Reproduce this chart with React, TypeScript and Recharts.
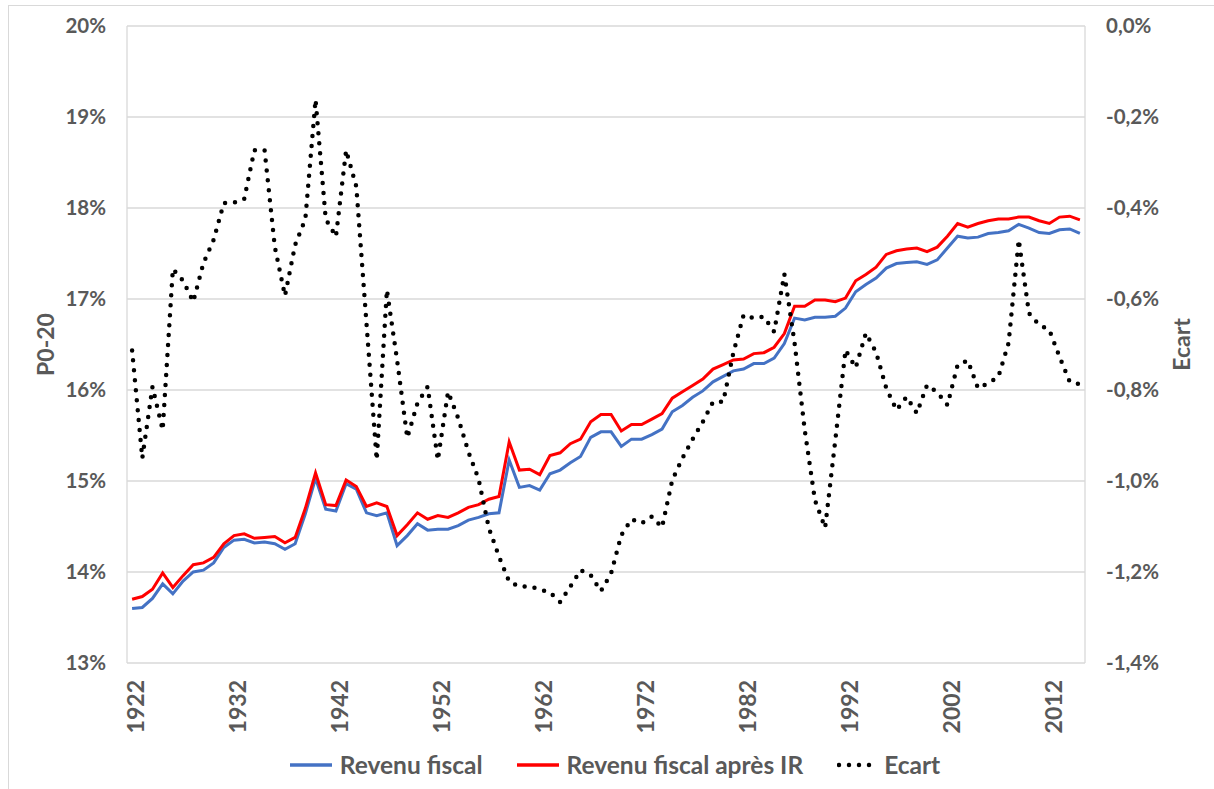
import React from 'react';
import { LineChart, Line, XAxis, YAxis, CartesianGrid } from 'recharts';

const years = [
  1922, 1923, 1924, 1925, 1926, 1927, 1928, 1929, 1930, 1931,
  1932, 1933, 1934, 1935, 1936, 1937, 1938, 1939, 1940, 1941,
  1942, 1943, 1944, 1945, 1946, 1947, 1948, 1949, 1950, 1951,
  1952, 1953, 1954, 1955, 1956, 1957, 1958, 1959, 1960, 1961,
  1962, 1963, 1964, 1965, 1966, 1967, 1968, 1969, 1970, 1971,
  1972, 1973, 1974, 1975, 1976, 1977, 1978, 1979, 1980, 1981,
  1982, 1983, 1984, 1985, 1986, 1987, 1988, 1989, 1990, 1991,
  1992, 1993, 1994, 1995, 1996, 1997, 1998, 1999, 2000, 2001,
  2002, 2003, 2004, 2005, 2006, 2007, 2008, 2009, 2010, 2011,
  2012, 2013, 2014, 2015,
];

// P0-20 share, revenu fiscal (%)
const revenuFiscal = [
  13.60, 13.61, 13.71, 13.87, 13.76, 13.90, 14.00, 14.02, 14.10, 14.27,
  14.35, 14.36, 14.32, 14.33, 14.31, 14.25, 14.31, 14.64, 15.03, 14.69,
  14.67, 14.97, 14.91, 14.65, 14.62, 14.65, 14.29, 14.40, 14.53, 14.46,
  14.47, 14.47, 14.51, 14.57, 14.60, 14.64, 14.65, 15.23, 14.93, 14.95,
  14.90, 15.08, 15.12, 15.20, 15.27, 15.48, 15.54, 15.54, 15.38, 15.46,
  15.46, 15.51, 15.57, 15.76, 15.83, 15.92, 15.99, 16.09, 16.15, 16.21,
  16.23, 16.29, 16.29, 16.35, 16.51, 16.79, 16.77, 16.80, 16.80, 16.81,
  16.90, 17.08, 17.16, 17.23, 17.34, 17.39, 17.40, 17.41, 17.38, 17.43,
  17.56, 17.69, 17.67, 17.68, 17.72, 17.73, 17.75, 17.82, 17.78, 17.73,
  17.72, 17.76, 17.77, 17.72,
];

// P0-20 share, revenu fiscal après IR (%)
const revenuApresIR = [
  13.70, 13.73, 13.81, 13.99, 13.83, 13.96, 14.08, 14.10, 14.16, 14.31,
  14.40, 14.42, 14.37, 14.38, 14.39, 14.32, 14.38, 14.70, 15.09, 14.74,
  14.73, 15.01, 14.94, 14.72, 14.76, 14.72, 14.40, 14.52, 14.65, 14.58,
  14.62, 14.60, 14.65, 14.71, 14.74, 14.80, 14.83, 15.43, 15.12, 15.13,
  15.07, 15.28, 15.31, 15.41, 15.46, 15.65, 15.73, 15.73, 15.55, 15.62,
  15.62, 15.68, 15.74, 15.91, 15.98, 16.05, 16.12, 16.23, 16.28, 16.33,
  16.34, 16.40, 16.41, 16.47, 16.62, 16.92, 16.92, 16.99, 16.99, 16.97,
  17.01, 17.20, 17.27, 17.35, 17.49, 17.53, 17.55, 17.56, 17.52, 17.57,
  17.69, 17.83, 17.79, 17.83, 17.86, 17.88, 17.88, 17.90, 17.90, 17.86,
  17.83, 17.90, 17.91, 17.87,
];

// Ecart (%), right axis
const ecart = [
  -0.713, -0.950, -0.793, -0.888, -0.534, -0.560, -0.606, -0.521, -0.470, -0.389,
  -0.388, -0.380, -0.273, -0.273, -0.485, -0.593, -0.481, -0.424, -0.162, -0.424,
  -0.463, -0.273, -0.353, -0.654, -0.954, -0.580, -0.734, -0.905, -0.829, -0.793,
  -0.954, -0.804, -0.862, -0.936, -0.996, -1.103, -1.166, -1.221, -1.232, -1.232,
  -1.238, -1.245, -1.266, -1.232, -1.196, -1.207, -1.242, -1.203, -1.119, -1.084,
  -1.093, -1.078, -1.102, -0.998, -0.950, -0.908, -0.870, -0.826, -0.826, -0.718,
  -0.635, -0.642, -0.639, -0.672, -0.545, -0.696, -0.888, -1.042, -1.103, -0.910,
  -0.712, -0.751, -0.675, -0.717, -0.796, -0.844, -0.815, -0.851, -0.789, -0.805,
  -0.833, -0.745, -0.735, -0.796, -0.785, -0.771, -0.697, -0.470, -0.631, -0.657,
  -0.668, -0.727, -0.782, -0.787,
];

const xTickYears = [1922, 1932, 1942, 1952, 1962, 1972, 1982, 1992, 2002, 2012];
const leftTicks = [13, 14, 15, 16, 17, 18, 19, 20];
const rightTicks = [-1.4, -1.2, -1.0, -0.8, -0.6, -0.4, -0.2, 0];

const seriesNames = {
  revenuFiscal: 'Revenu fiscal',
  revenuApresIR: 'Revenu fiscal après IR',
  ecart: 'Ecart',
};
const leftTitle = 'P0-20';
const rightTitle = 'Ecart';

const data = years.map((year, i) => ({
  year,
  revenuFiscal: revenuFiscal[i],
  revenuApresIR: revenuApresIR[i],
  ecart: ecart[i],
}));

const xDomain = [years[0] - 0.5, years[years.length - 1] + 0.5];
const gridTicks = xTickYears.map((y) => y - 0.5);

const FONT = 'Lato, "Open Sans", "DejaVu Sans", sans-serif';
const TEXT = '#595959';
const GRID = '#D9D9D9';
const BLUE = '#4472C4';
const RED = '#FF0000';

const tickStyle = { fill: TEXT, fontSize: 20.5, fontWeight: 700, fontFamily: FONT };

const XTick = (props: any) => {
  const { x, y, payload } = props;
  const tx = x + 4;
  const ty = y + 9;
  return (
    <text
      x={tx}
      y={ty}
      transform={`rotate(-90 ${tx} ${ty})`}
      textAnchor="end"
      dy="0.36em"
      fill={TEXT}
      fontSize={23}
      fontWeight={700}
      fontFamily={FONT}
    >
      {payload.value}
    </text>
  );
};

const makeTitle = (text: string, offset: number) => (props: any) => {
  const vb = props.viewBox || {};
  const cx = vb.x + offset;
  const cy = vb.y + vb.height / 2;
  return (
    <text
      x={cx}
      y={cy}
      transform={`rotate(-90 ${cx} ${cy})`}
      textAnchor="middle"
      dominantBaseline="central"
      fill={TEXT}
      fontSize={23}
      fontWeight={700}
      fontFamily={FONT}
    >
      {text}
    </text>
  );
};

const fmtRight = (v: number) => `${v.toFixed(1).replace('.', ',')}%`;

const LegendItem = ({ kind, label }: { kind: 'blue' | 'red' | 'dot'; label: string }) => (
  <div style={{ display: 'flex', alignItems: 'center' }}>
    <svg width={44} height={12} style={{ marginRight: kind === 'dot' ? 3 : 6 }}>
      {kind === 'dot' ? (
        <line x1={2} y1={6} x2={42} y2={6} stroke="#000" strokeWidth={4.5}
          strokeDasharray="0 10" strokeLinecap="round" />
      ) : (
        <line x1={0} y1={6} x2={42} y2={6} stroke={kind === 'blue' ? BLUE : RED} strokeWidth={3.5} />
      )}
    </svg>
    <span style={{ color: TEXT, fontSize: 24.5, fontWeight: 700, fontFamily: FONT, lineHeight: '28px' }}>{label}</span>
  </div>
);

export default function App() {
  return (
    <div style={{ position: 'absolute', left: 0, top: 0, width: 1214, height: 789, background: '#fff', overflow: 'hidden' }}>
      <div style={{ position: 'absolute', left: 8, top: 5, width: 1300, height: 900, borderTop: '1.5px solid #D9D9D9', borderLeft: '1.5px solid #D9D9D9' }} />
      <div style={{ position: 'absolute', left: 0, top: 0 }}>
        <LineChart width={1214} height={789} data={data} margin={{ top: 26, right: 0, bottom: 56, left: 0 }}>
          <CartesianGrid xAxisId="grid" yAxisId="left" stroke={GRID} strokeWidth={1.3} />
          <XAxis
            xAxisId="main"
            dataKey="year"
            type="number"
            domain={xDomain}
            ticks={xTickYears}
            interval={0}
            tick={<XTick />}
            tickLine={false}
            axisLine={false}
            height={70}
          />
          <XAxis
            xAxisId="grid"
            dataKey="year"
            type="number"
            domain={xDomain}
            ticks={gridTicks}
            tick={false}
            tickLine={false}
            axisLine={false}
            height={0}
          />
          <YAxis
            yAxisId="left"
            domain={[13, 20]}
            ticks={leftTicks}
            interval={0}
            tickFormatter={(v: number) => `${v}%`}
            width={127}
            axisLine={false}
            tickLine={false}
            tickMargin={15}
            tick={tickStyle}
            label={{ content: makeTitle(leftTitle, 45) }}
          />
          <YAxis
            yAxisId="right"
            orientation="right"
            domain={[-1.4, 0]}
            ticks={rightTicks}
            interval={0}
            tickFormatter={fmtRight}
            width={129}
            axisLine={false}
            tickLine={false}
            tickMargin={15}
            tick={{ ...tickStyle, textAnchor: 'start' }}
            label={{ content: makeTitle(rightTitle, 96) }}
          />
          <Line xAxisId="main" yAxisId="left" type="linear" dataKey="revenuFiscal" name={seriesNames.revenuFiscal}
            stroke={BLUE} strokeWidth={3} dot={false} isAnimationActive={false} />
          <Line xAxisId="main" yAxisId="left" type="linear" dataKey="revenuApresIR" name={seriesNames.revenuApresIR}
            stroke={RED} strokeWidth={3} dot={false} isAnimationActive={false} />
          <Line xAxisId="main" yAxisId="right" type="linear" dataKey="ecart" name={seriesNames.ecart}
            stroke="#000" strokeWidth={4.5} strokeDasharray="0 10" strokeLinecap="round" dot={false} isAnimationActive={false} />
        </LineChart>
      </div>
      <div style={{ position: 'absolute', left: 0, top: 751, width: 1214, display: 'flex', justifyContent: 'center', gap: 34, paddingLeft: 16, boxSizing: 'border-box' }}>
        <LegendItem kind="blue" label={seriesNames.revenuFiscal} />
        <LegendItem kind="red" label={seriesNames.revenuApresIR} />
        <LegendItem kind="dot" label={seriesNames.ecart} />
      </div>
    </div>
  );
}
